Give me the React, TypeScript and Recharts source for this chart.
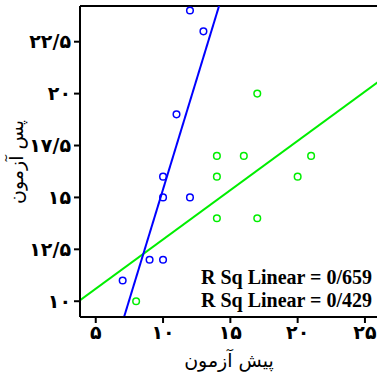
import React from "react";
import {
  Label,
  ReferenceLine,
  Scatter,
  ScatterChart,
  XAxis,
  YAxis,
} from "recharts";

// Pre-test (x) vs post-test (y) scores, two groups.
const X_TICKS = [5, 10, 15, 20, 25];
const Y_TICKS = [10, 12.5, 15, 17.5, 20, 22.5];

const BLUE_X = [12, 13, 11, 10, 10, 12, 9, 10, 7];
const BLUE_Y = [24, 23, 19, 16, 15, 15, 12, 12, 11];

const GREEN_X = [17, 14, 16, 21, 14, 20, 14, 17, 8];
const GREEN_Y = [20, 17, 17, 17, 16, 16, 14, 14, 10];

const R_SQ = ["0/659", "0/429"];

const X_TITLE = "پیش آزمون";
const Y_TITLE = "پس آزمون";

const BLUE = "#0000ff";
const GREEN = "#00ee00";
const INK = "#000";
const FA_FONT = "'DejaVu Sans', sans-serif";

const X_DOMAIN: [number, number] = [3.83, 29.09];
const Y_DOMAIN: [number, number] = [9.24, 24.22];

const PERSIAN = "۰۱۲۳۴۵۶۷۸۹";
const toPersian = (v: number) =>
  String(v)
    .replace(".", "/")
    .replace(/\d/g, (d) => PERSIAN[Number(d)]);

const points = (xs: number[], ys: number[]) => xs.map((x, i) => ({ x, y: ys[i] }));

// Ordinary least squares fit, returned as a long segment (clipped by the plot area).
function fitSegment(xs: number[], ys: number[]) {
  const n = xs.length;
  const mx = xs.reduce((a, b) => a + b, 0) / n;
  const my = ys.reduce((a, b) => a + b, 0) / n;
  let sxy = 0;
  let sxx = 0;
  xs.forEach((x, i) => {
    sxy += (x - mx) * (ys[i] - my);
    sxx += (x - mx) * (x - mx);
  });
  const slope = sxy / sxx;
  const at = (x: number) => my + slope * (x - mx);
  return [
    { x: 0, y: at(0) },
    { x: 40, y: at(40) },
  ];
}

const hollow = (color: string) => (props: any) => (
  <circle cx={props.cx} cy={props.cy} r={3.3} fill="none" stroke={color} strokeWidth={1.5} />
);

const TICK = { fill: INK, fontSize: 19, fontWeight: "bold", fontFamily: FA_FONT } as const;
const AXIS_LINE = { stroke: INK, strokeWidth: 2 };

function XTitle() {
  return (
    <text x={229} y={367} textAnchor="middle" fontFamily={FA_FONT} fontSize={19} fill={INK}>
      {X_TITLE}
    </text>
  );
}

function YTitle() {
  return (
    <text
      x={23}
      y={162}
      textAnchor="middle"
      transform="rotate(-90 23 162)"
      fontFamily={FA_FONT}
      fontSize={19}
      fill={INK}
    >
      {Y_TITLE}
    </text>
  );
}

export default function App() {
  return (
    <div
      style={{
        position: "fixed",
        left: 0,
        top: 0,
        width: 377,
        height: 377,
        overflow: "hidden",
        background: "#fff",
      }}
    >
      <ScatterChart width={420} height={377} margin={{ top: 6, right: 0, bottom: 0, left: 0 }}>
        <XAxis
          type="number"
          dataKey="x"
          domain={X_DOMAIN}
          ticks={X_TICKS}
          allowDataOverflow
          height={60}
          tickFormatter={toPersian}
          tick={TICK}
          tickSize={6}
          tickMargin={3}
          axisLine={AXIS_LINE}
          tickLine={AXIS_LINE}
        >
          <Label content={XTitle} />
        </XAxis>
        <YAxis
          type="number"
          dataKey="y"
          domain={Y_DOMAIN}
          ticks={Y_TICKS}
          allowDataOverflow
          width={80}
          tickFormatter={toPersian}
          tick={TICK}
          tickSize={6}
          tickMargin={3}
          axisLine={AXIS_LINE}
          tickLine={AXIS_LINE}
        >
          <Label content={YTitle} />
        </YAxis>
        <ReferenceLine y={Y_DOMAIN[1]} stroke={INK} strokeWidth={2} ifOverflow="visible" />
        <Scatter
          data={points(BLUE_X, BLUE_Y)}
          shape={hollow(BLUE)}
          isAnimationActive={false}
        />
        <Scatter
          data={points(GREEN_X, GREEN_Y)}
          shape={hollow(GREEN)}
          isAnimationActive={false}
        />
        <ReferenceLine
          segment={fitSegment(GREEN_X, GREEN_Y)}
          stroke={GREEN}
          strokeWidth={2}
          ifOverflow="hidden"
        />
        <ReferenceLine
          segment={fitSegment(BLUE_X, BLUE_Y)}
          stroke={BLUE}
          strokeWidth={2}
          ifOverflow="hidden"
        />
      </ScatterChart>
      <div
        style={{
          position: "absolute",
          right: 5,
          top: 266,
          textAlign: "right",
          fontFamily: "'Liberation Serif', serif",
          fontWeight: "bold",
          fontSize: 20,
          lineHeight: "23px",
          color: INK,
        }}
      >
        {R_SQ.map((v) => (
          <div key={v}>R Sq Linear = {v}</div>
        ))}
      </div>
    </div>
  );
}
